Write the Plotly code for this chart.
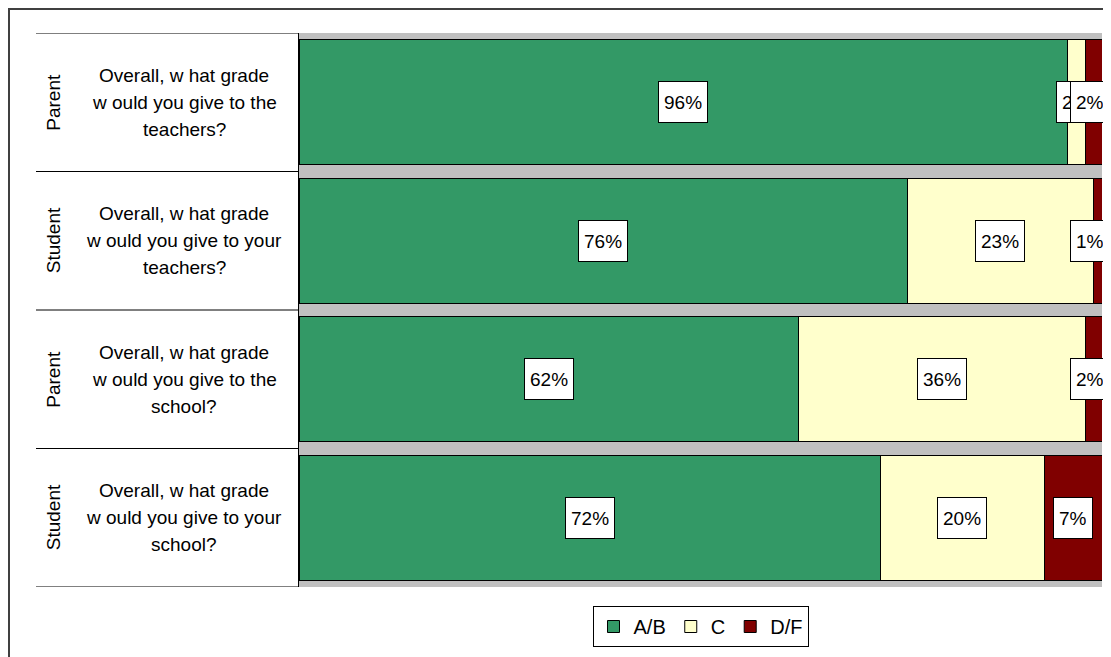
import plotly.graph_objects as go

# ---- data ----
groups = ["Parent", "Student", "Parent", "Student"]
questions = [
    "Overall, w hat grade<br>w ould you give to the<br>teachers?",
    "Overall, w hat grade<br>w ould you give to your<br>teachers?",
    "Overall, w hat grade<br>w ould you give to the<br>school?",
    "Overall, w hat grade<br>w ould you give to your<br>school?",
]
series_names = ["A/B", "C", "D/F"]
ab_vals = [95.7, 75.8, 62.2, 72.4]
c_vals = [2.2, 23.1, 35.7, 20.4]
df_vals = [2.1, 1.1, 2.1, 7.2]
ab_labels = ["96%", "76%", "62%", "72%"]
c_labels = ["2%", "23%", "36%", "20%"]
df_labels = ["2%", "1%", "2%", "7%"]
colors = ["#339966", "#FFFFCC", "#800000"]

OFF = 8  # page body margin
W, H = 1111 - OFF, 657 - OFF
# plot area in window pixels: x 299..1102, y 33..587
ML, MR, MT, MB = 299 - OFF, W - (1102 - OFF), 33 - OFF, H - (587 - OFF)
PW = W - ML - MR
PH = H - MT - MB
RIGHT_LIMIT = 1110  # labels are kept inside the chart area (window px)

def px_x(p):
    return (p - OFF - ML) / PW

def px_y(p):
    return (H - MB - (p - OFF)) / PH

def label_width(t):
    w = 12
    for ch in t:
        w += 17 if ch == "%" else 10.6
    return w

FONT = "Liberation Sans, Arial"
cats = list(range(len(questions)))
fig = go.Figure()
for name, vals, col in zip(series_names, [ab_vals, c_vals, df_vals], colors):
    fig.add_trace(go.Bar(
        y=cats, x=vals, name=name, orientation="h",
        marker=dict(color=col, line=dict(color="black", width=1)),
        hoverinfo="skip",
    ))

annotations = []
series_all = [ab_vals, c_vals, df_vals]
labels_all = [ab_labels, c_labels, df_labels]
for i in cats:
    start = 0.0
    for s in range(3):
        v = series_all[s][i]
        mid = start + v / 2
        start += v
        txt = labels_all[s][i]
        base = dict(
            y=i, yref="y", text=txt,
            showarrow=False, font=dict(family=FONT, size=19, color="black"),
            bgcolor="white", bordercolor="black", borderwidth=1, borderpad=5,
            height=30, yanchor="middle",
        )
        mid_px = 299 + mid / 100 * PW
        if mid_px + label_width(txt) / 2 > RIGHT_LIMIT:
            base.update(x=px_x(RIGHT_LIMIT), xref="paper", xanchor="right")
        else:
            base.update(x=mid, xref="x", xanchor="center")
        annotations.append(base)

for i in cats:
    annotations.append(dict(
        x=px_x(53.5), y=i, xref="paper", yref="y", text=groups[i], textangle=-90,
        showarrow=False, font=dict(family=FONT, size=19, color="black"),
        xanchor="center", yanchor="middle",
    ))
    lines = questions[i].split("<br>")
    n = len(lines)
    for j, ln in enumerate(lines):
        annotations.append(dict(
            x=px_x(184), y=i, xref="paper", yref="y", text=ln,
            showarrow=False, font=dict(family=FONT, size=19, color="black"),
            xanchor="center", yanchor="middle", yshift=((n - 1) / 2 - j) * 27,
        ))

shapes = []
for b in [-0.5, 0.5, 1.5, 2.5, 3.5]:
    shapes.append(dict(type="line", xref="paper", yref="y", x0=px_x(36), x1=0,
                       y0=b, y1=b, line=dict(color="black", width=1)))
shapes.append(dict(type="rect", xref="paper", yref="paper",
                   x0=px_x(9), x1=1.2, y0=-0.5, y1=px_y(9),
                   line=dict(color="#404040", width=2), layer="below"))

fig.update_layout(
    width=W, height=H,
    margin=dict(l=ML, r=MR, t=MT, b=MB),
    barmode="stack", bargap=0.1,
    plot_bgcolor="#C0C0C0", paper_bgcolor="white",
    font=dict(family=FONT, color="black"),
    xaxis=dict(range=[0, 100], showticklabels=False, showgrid=False, zeroline=False,
               ticks="", showline=False, fixedrange=True),
    yaxis=dict(range=[3.5, -0.5], showticklabels=False, showgrid=False, zeroline=False,
               ticks="", showline=True, linecolor="black", linewidth=1, fixedrange=True),
    showlegend=True,
    legend=dict(orientation="h", x=0.5, xanchor="center", y=px_y(606), yanchor="top",
                bordercolor="black", borderwidth=1, font=dict(size=20),
                itemwidth=30, traceorder="normal", bgcolor="white"),
    annotations=annotations,
    shapes=shapes,
)

fig.write_html("out.html")
